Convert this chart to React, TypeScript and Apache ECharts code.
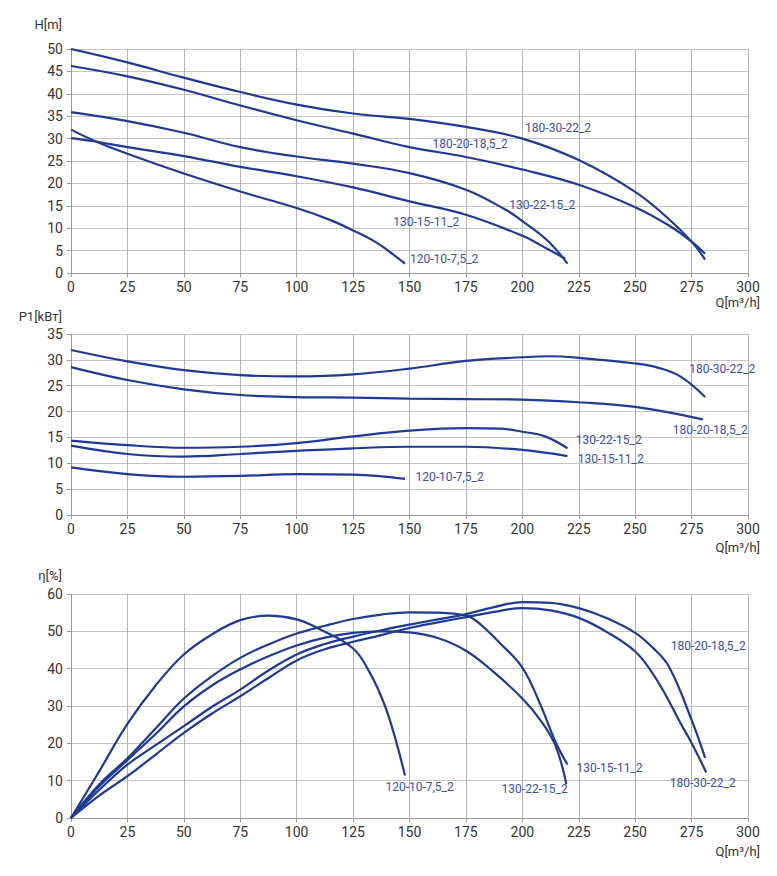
import React, { useEffect, useRef } from "react";
import * as echarts from "echarts";

const NAMES = ["120-10-7,5_2", "130-15-11_2", "130-22-15_2", "180-20-18,5_2", "180-30-22_2"];

// ---- H(Q) ----
const H_Q_120 = [0, 10, 25, 50, 75, 100, 115, 125, 135, 141, 148];
const H_120 = [32, 29.6, 26.6, 22.2, 18.2, 14.5, 11.8, 9.5, 6.9, 4.8, 2.1];
const H_Q_130_15 = [0, 10, 25, 50, 75, 100, 125, 150, 175, 200, 211, 219];
const H_130_15 = [30.1, 29.4, 28.1, 26.1, 23.7, 21.6, 19.1, 16.0, 13.0, 8.3, 5.4, 3.2];
const H_Q_130_22 = [0, 25, 50, 75, 100, 125, 150, 175, 193, 200, 211, 220];
const H_130_22 = [35.9, 33.9, 31.3, 28.1, 26.0, 24.4, 22.3, 18.6, 14.0, 11.6, 7.3, 2.1];
const H_Q_180_20 = [0, 25, 50, 75, 100, 125, 150, 175, 200, 225, 250, 265, 275, 281];
const H_180_20 = [46.2, 43.9, 40.9, 37.4, 34.1, 31.1, 28.1, 25.9, 23.1, 19.7, 14.7, 10.6, 7.0, 4.3];
const H_Q_180_30 = [0, 25, 50, 75, 100, 125, 150, 175, 200, 225, 250, 265, 275, 281];
const H_180_30 = [50, 47.0, 43.6, 40.4, 37.6, 35.6, 34.4, 32.6, 30.0, 25.2, 18.1, 12.0, 7.0, 3.0];

// ---- P1(Q) ----
const P_Q_120 = [0, 25, 50, 75, 100, 125, 148];
const P_120 = [9.2, 7.9, 7.4, 7.55, 7.9, 7.8, 7.0];
const P_Q_130_15 = [0, 25, 50, 75, 100, 125, 150, 175, 200, 220];
const P_130_15 = [13.4, 11.8, 11.3, 11.8, 12.4, 12.9, 13.2, 13.2, 12.6, 11.4];
const P_Q_130_22 = [0, 25, 50, 75, 100, 125, 150, 175, 190, 200, 210, 220];
const P_130_22 = [14.4, 13.5, 13.0, 13.2, 13.9, 15.2, 16.3, 16.8, 16.7, 16.1, 15.2, 12.9];
const P_Q_180_20 = [0, 25, 50, 75, 100, 125, 150, 175, 200, 225, 250, 280];
const P_180_20 = [28.6, 26.1, 24.3, 23.2, 22.8, 22.7, 22.5, 22.4, 22.3, 21.8, 20.9, 18.5];
const P_Q_180_30 = [0, 25, 50, 75, 100, 125, 150, 175, 200, 212, 225, 250, 260, 270, 281];
const P_180_30 = [31.9, 29.7, 28.0, 27.05, 26.8, 27.2, 28.3, 29.8, 30.5, 30.7, 30.4, 29.3, 28.5, 26.8, 22.8];

// ---- eta(Q) ----
const E_Q_120 = [0, 12.5, 25, 37.5, 50, 62.5, 75, 87.5, 100, 110, 125, 132.5, 138.5, 143, 148];
const E_120 = [0, 12.5, 25.2, 35.5, 43.8, 49.2, 53, 54.2, 53.2, 50.6, 45.4, 38.8, 31.0, 22.8, 11.4];
const E_Q_130_15 = [0, 12.5, 25, 37.5, 50, 62.5, 75, 87.5, 100, 112.5, 125, 137.5, 150, 162.5, 175, 180, 190, 200, 207.9, 214.6, 220];
const E_130_15 = [0, 9, 16, 24, 32, 38, 42.9, 46.5, 49.4, 51.5, 53.3, 54.5, 55.1, 55, 54.2, 52.6, 46.9, 40.3, 30.5, 20.5, 14.3];
const E_Q_130_22 = [0, 12.5, 25, 37.5, 50, 62.5, 75, 87.5, 100, 112.5, 125, 137.5, 150, 162.5, 175, 187.5, 200, 207.9, 214.6, 219.5];
const E_130_22 = [0, 8.5, 15.5, 22.5, 29.9, 35.5, 39.8, 43.3, 46.2, 48.3, 49.6, 50, 49.7, 48.2, 44.8, 39, 32, 26.3, 19.5, 9.1];
const E_Q_180_20 = [0, 12.5, 25, 37.5, 50, 62.5, 75, 87.5, 100, 112.5, 125, 137.5, 150, 162.5, 175, 187.5, 200, 212.5, 225, 237.5, 250, 258, 265, 275, 281];
const E_180_20 = [0, 7.5, 14.3, 19.5, 24.6, 29.8, 34.4, 39.5, 43.8, 46.6, 48.6, 50.3, 51.8, 53.2, 54.6, 56.5, 57.8, 57.6, 56.2, 53.5, 49.6, 45.5, 40.5, 26.3, 16.1];
const E_Q_180_30 = [0, 12.5, 25, 37.5, 50, 62.5, 75, 87.5, 100, 112.5, 125, 137.5, 150, 162.5, 175, 187.5, 200, 212.5, 225, 237.5, 250, 258, 263.8, 270, 275, 281.5];
const E_180_30 = [0, 6, 11.2, 17, 22.8, 28, 32.6, 37.5, 42.2, 45.2, 47.2, 49, 50.9, 52.4, 53.8, 55.2, 56.2, 55.6, 53.6, 49.8, 44.6, 38.5, 32.6, 25.5, 20.1, 12.2];

// ---- label anchors (data units), order as NAMES ----
const H_LABEL_Q = [150.0, 142.6, 194.0, 160.0, 201.0];
const H_LABEL_V = [3.2, 11.4, 15.1, 28.7, 32.4];
const P_LABEL_Q = [152.4, 224.3, 223.4, 266.4, 273.7];
const P_LABEL_V = [7.3, 10.8, 14.5, 16.4, 28.2];
const E_LABEL_Q = [139.1, 223.8, 190.6, 265.5, 265.1];
const E_LABEL_V = [8.2, 13.5, 7.8, 46, 9.5];

// ---- axis ticks ----
const X_MIN = 0, X_MAX = 300, X_STEP = 25;
const H_MAX = 50, H_STEP = 5;
const P_MAX = 35, P_STEP = 5;
const E_MAX = 60, E_STEP = 10;

const LINE = "#1f3a95";
const LABEL = "#3c4fa6";
const FONT = "Roboto";

const zip = (q: number[], v: number[]) => q.map((x, i) => [x, v[i]]);

const H_SETS = [zip(H_Q_120, H_120), zip(H_Q_130_15, H_130_15), zip(H_Q_130_22, H_130_22), zip(H_Q_180_20, H_180_20), zip(H_Q_180_30, H_180_30)];
const P_SETS = [zip(P_Q_120, P_120), zip(P_Q_130_15, P_130_15), zip(P_Q_130_22, P_130_22), zip(P_Q_180_20, P_180_20), zip(P_Q_180_30, P_180_30)];
const E_SETS = [zip(E_Q_120, E_120), zip(E_Q_130_15, E_130_15), zip(E_Q_130_22, E_130_22), zip(E_Q_180_20, E_180_20), zip(E_Q_180_30, E_180_30)];

export default function App() {
  const ref = useRef<HTMLDivElement>(null);
  useEffect(() => {
    if (!ref.current) return;
    const chart = echarts.init(ref.current, undefined, { renderer: "svg" });
    const grids = [
      { left: 71, top: 49, width: 677, height: 224 },
      { left: 71, top: 334, width: 677, height: 181 },
      { left: 71, top: 594, width: 677, height: 224 },
    ];
    const xAxis = grids.map((_, i) => ({
      type: "value",
      gridIndex: i,
      min: X_MIN,
      max: X_MAX,
      interval: X_STEP,
      axisLine: { show: true, lineStyle: { color: "#9a9a9a", width: 1 } },
      axisTick: { show: true, length: 4, lineStyle: { color: "#9a9a9a" } },
      axisLabel: { color: "#333", fontSize: 14, fontFamily: FONT, margin: 7 },
      splitLine: { show: true, lineStyle: { color: "#b4b4b4", width: 1 } },
    }));
    const yMax = [H_MAX, P_MAX, E_MAX];
    const yStep = [H_STEP, P_STEP, E_STEP];
    const yAxis = grids.map((_, i) => ({
      type: "value",
      gridIndex: i,
      min: 0,
      max: yMax[i],
      interval: yStep[i],
      axisLine: { show: true, lineStyle: { color: "#9a9a9a", width: 1 } },
      axisTick: { show: true, length: 4, lineStyle: { color: "#9a9a9a" } },
      axisLabel: { color: "#333", fontSize: 14, fontFamily: FONT, margin: 8 },
      splitLine: { show: true, lineStyle: { color: "#c6c6c6", width: 1 } },
    }));
    const sets = [H_SETS, P_SETS, E_SETS];
    const lq = [H_LABEL_Q, P_LABEL_Q, E_LABEL_Q];
    const lv = [H_LABEL_V, P_LABEL_V, E_LABEL_V];
    const series: any[] = [];
    sets.forEach((s, gi) => {
      s.forEach((data, si) => {
        series.push({
          type: "line",
          name: NAMES[si] + "#" + gi,
          xAxisIndex: gi,
          yAxisIndex: gi,
          data,
          smooth: 0.4,
          showSymbol: false,
          symbol: "none",
          lineStyle: { color: LINE, width: 2.2 },
          markPoint: {
            symbol: "circle",
            symbolSize: 1,
            itemStyle: { color: "rgba(0,0,0,0)" },
            label: {
              show: true,
              position: "right",
              distance: 0,
              formatter: NAMES[si],
              color: LABEL,
              fontSize: 12,
              fontFamily: FONT,
            },
            data: [{ coord: [lq[gi][si], lv[gi][si]] }],
          },
        });
      });
    });
    const txt = (text: string, x: number, y: number) => ({
      type: "text",
      x,
      y,
      style: { text, fill: "#333", fontSize: 13, fontFamily: FONT, textAlign: "right", textVerticalAlign: "middle" },
    });
    chart.setOption({
      animation: false,
      backgroundColor: "#fff",
      grid: grids,
      xAxis,
      yAxis,
      series,
      graphic: [
        txt("H[m]", 62, 24),
        txt("P1[kBт]", 62, 316),
        txt("η[%]", 62, 575),
        txt("Q[m³/h]", 760, 302),
        txt("Q[m³/h]", 760, 547),
        txt("Q[m³/h]", 760, 851),
      ],
    });
    return () => chart.dispose();
  }, []);
  return <div ref={ref} style={{ position: "absolute", left: 0, top: 0, width: 777, height: 876 }} />;
}
